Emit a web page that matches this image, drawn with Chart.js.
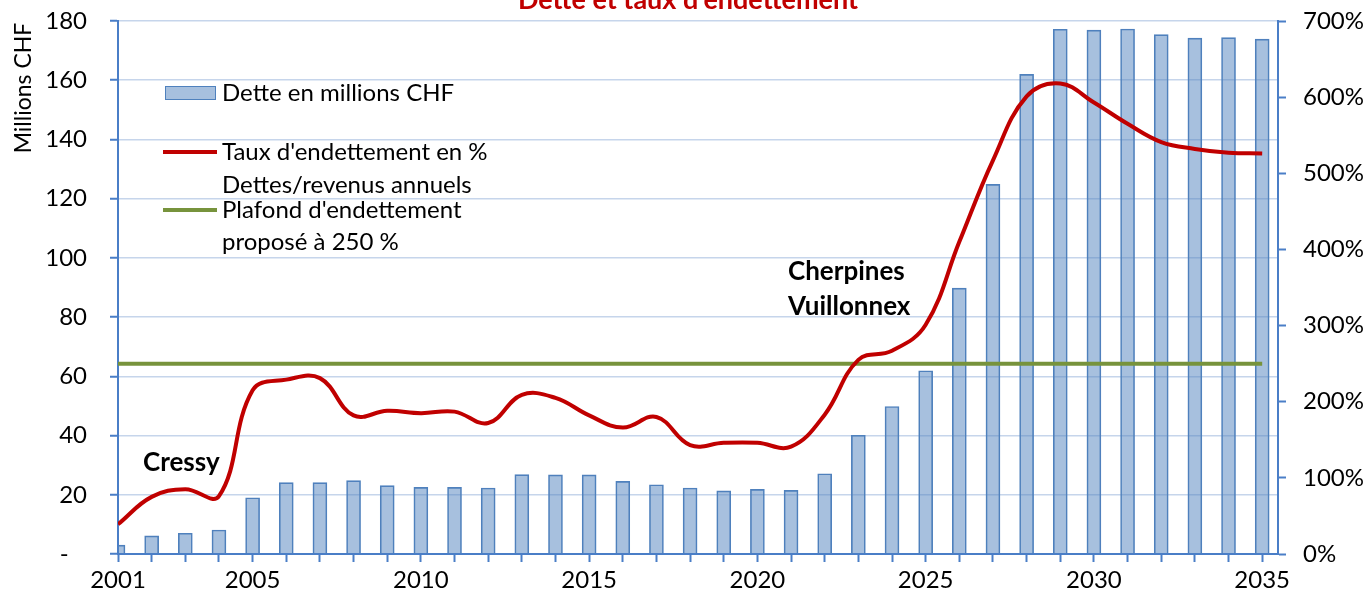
<!DOCTYPE html>
<html>
<head>
<meta charset="utf-8">
<script src="https://cdn.jsdelivr.net/npm/chart.js@4.4.1/dist/chart.umd.min.js"></script>
<style>
  html, body { margin: 0; padding: 0; background: #fff; }
  #wrap { width: 1366px; height: 591px; }
</style>
</head>
<body>
<div id="wrap"><canvas id="debtChart" width="1366" height="591"></canvas></div>
<script>
// Years on the x axis (one bar per year)
const years = [2001, 2002, 2003, 2004, 2005, 2006, 2007, 2008, 2009, 2010,
               2011, 2012, 2013, 2014, 2015, 2016, 2017, 2018, 2019, 2020,
               2021, 2022, 2023, 2024, 2025, 2026, 2027, 2028, 2029, 2030,
               2031, 2032, 2033, 2034, 2035];

// Dette en millions CHF (left axis)
const debtMillions = [3.0, 6.1, 7.0, 8.1, 19.0, 24.1, 24.1, 24.8, 23.1, 22.5,
                      22.5, 22.3, 26.8, 26.7, 26.7, 24.5, 23.4, 22.3, 21.3, 21.8,
                      21.5, 27.1, 40.1, 49.8, 61.9, 89.8, 124.8, 162.0, 177.2, 176.9,
                      177.3, 175.4, 174.2, 174.4, 173.9];

// Taux d'endettement en % (right axis)
const debtRatioPct = [39, 75, 85, 76, 215, 229, 231, 182, 188, 185,
                      187, 172, 209, 205, 182, 166, 180, 143, 146, 146,
                      141, 183, 255, 267, 301, 410, 517, 601, 618, 593,
                      565, 541, 532, 527, 526];

// Plafond d'endettement proposé (flat line)
const ceilingYears = [2001, 2035];
const ceilingPct = [250, 250];

// Axis ticks
const leftTicks = [0, 20, 40, 60, 80, 100, 120, 140, 160, 180];
const rightTicks = [0, 100, 200, 300, 400, 500, 600, 700];
const xLabelYears = [2001, 2005, 2010, 2015, 2020, 2025, 2030, 2035];

const FONT = 'Lato';
const axisBlue = '#4A7EC7';

// Title, axis title, annotations and legend drawn on top of the chart
const overlayText = {
    id: 'overlayText',
    afterDraw(chart) {
        const ctx = chart.ctx;
        ctx.save();

        // Title (cut at the top edge as in the source)
        ctx.fillStyle = '#C00000';
        ctx.font = `bold 27px ${FONT}`;
        ctx.textAlign = 'center';
        ctx.textBaseline = 'alphabetic';
        ctx.fillText('Dette et taux d\'endettement', 688, 9);

        // Left axis title
        ctx.save();
        ctx.translate(31, 88);
        ctx.rotate(-Math.PI / 2);
        ctx.fillStyle = '#000';
        ctx.font = `23px ${FONT}`;
        ctx.textAlign = 'center';
        ctx.fillText('Millions CHF', 0, 0);
        ctx.restore();

        // Annotations
        ctx.fillStyle = '#000';
        ctx.font = `bold 26px ${FONT}`;
        ctx.textAlign = 'left';
        ctx.fillText('Cressy', 143, 471);
        ctx.fillText('Cherpines', 788, 280);
        ctx.fillText('Vuillonnex', 788, 315);

        // Legend
        ctx.font = `24px ${FONT}`;
        ctx.fillStyle = 'rgba(79,129,189,0.5)';
        ctx.fillRect(165, 86, 51, 14);
        ctx.strokeStyle = '#4F81BD';
        ctx.lineWidth = 1;
        ctx.strokeRect(165.5, 86.5, 50, 13);

        ctx.lineWidth = 4;
        ctx.strokeStyle = '#C00000';
        ctx.beginPath(); ctx.moveTo(163, 152); ctx.lineTo(217, 152); ctx.stroke();
        ctx.strokeStyle = '#77933C';
        ctx.beginPath(); ctx.moveTo(163, 210); ctx.lineTo(217, 210); ctx.stroke();

        ctx.fillStyle = '#000';
        ctx.fillText('Dette en millions CHF', 222, 101);
        ctx.fillText('Taux d\'endettement en %', 222, 160);
        ctx.fillText('Dettes/revenus annuels', 222, 193);
        ctx.fillText('Plafond d\'endettement', 222, 218);
        ctx.fillText('proposé à 250 %', 222, 250);

        ctx.restore();
    }
};

const ctx = document.getElementById('debtChart').getContext('2d');

new Chart(ctx, {
    data: {
        datasets: [
            {
                type: 'line',
                label: 'Taux d\'endettement en %',
                data: years.map((yr, i) => ({ x: yr, y: debtRatioPct[i] })),
                yAxisID: 'y1',
                borderColor: '#C00000',
                borderWidth: 4,
                pointRadius: 0,
                tension: 0.4,
                order: 1
            },
            {
                type: 'line',
                label: 'Plafond d\'endettement proposé à 250 %',
                data: ceilingYears.map((yr, i) => ({ x: yr, y: ceilingPct[i] })),
                yAxisID: 'y1',
                borderColor: '#77933C',
                borderWidth: 4,
                pointRadius: 0,
                order: 2
            },
            {
                type: 'bar',
                label: 'Dette en millions CHF',
                data: years.map((yr, i) => ({ x: yr, y: debtMillions[i] })),
                yAxisID: 'y',
                backgroundColor: 'rgba(79,129,189,0.5)',
                borderColor: '#4F81BD',
                borderWidth: 1,
                barThickness: 14,
                order: 3
            }
        ]
    },
    options: {
        responsive: false,
        animation: false,
        devicePixelRatio: 1,
        layout: { padding: { top: 21, left: 0, right: 0, bottom: 0 } },
        plugins: {
            legend: { display: false },
            tooltip: { enabled: false },
            title: { display: false }
        },
        scales: {
            x: {
                type: 'linear',
                offset: false,
                min: 2001,
                max: 2035.47,
                afterBuildTicks: scale => { scale.ticks = years.map(v => ({ value: v })); },
                afterFit: scale => { scale.height = 37; scale.paddingLeft = 0; scale.paddingRight = 0; },
                ticks: {
                    autoSkip: false,
                    maxRotation: 0,
                    padding: 4,
                    color: '#000',
                    font: { family: FONT, size: 24 },
                    callback: v => xLabelYears.includes(v) ? String(v) : ''
                },
                grid: { offset: false, drawOnChartArea: false, tickLength: 8, tickColor: axisBlue, tickWidth: 2 },
                border: { color: axisBlue, width: 2 }
            },
            y: {
                position: 'left',
                min: 0,
                max: 180,
                afterBuildTicks: scale => { scale.ticks = leftTicks.map(v => ({ value: v })); },
                afterFit: scale => { scale.width = 118; scale.paddingTop = 0; scale.paddingBottom = 0; },
                ticks: {
                    padding: 23,
                    color: '#000',
                    font: { family: FONT, size: 24 },
                    callback: v => v === 0 ? '-   ' : String(v)
                },
                grid: { color: '#C6D5EB', lineWidth: 1.5, tickLength: 8, tickColor: axisBlue, tickWidth: 2 },
                border: { color: axisBlue, width: 2 }
            },
            y1: {
                position: 'right',
                min: 0,
                max: 700,
                afterBuildTicks: scale => { scale.ticks = rightTicks.map(v => ({ value: v })); },
                afterFit: scale => { scale.width = 88; scale.paddingTop = 0; scale.paddingBottom = 0; },
                ticks: {
                    padding: 17,
                    color: '#000',
                    font: { family: FONT, size: 24 },
                    callback: v => v + '%'
                },
                grid: { drawOnChartArea: false, tickLength: 8, tickColor: axisBlue, tickWidth: 2 },
                border: { color: axisBlue, width: 2 }
            }
        }
    },
    plugins: [overlayText]
});
</script>
</body>
</html>
